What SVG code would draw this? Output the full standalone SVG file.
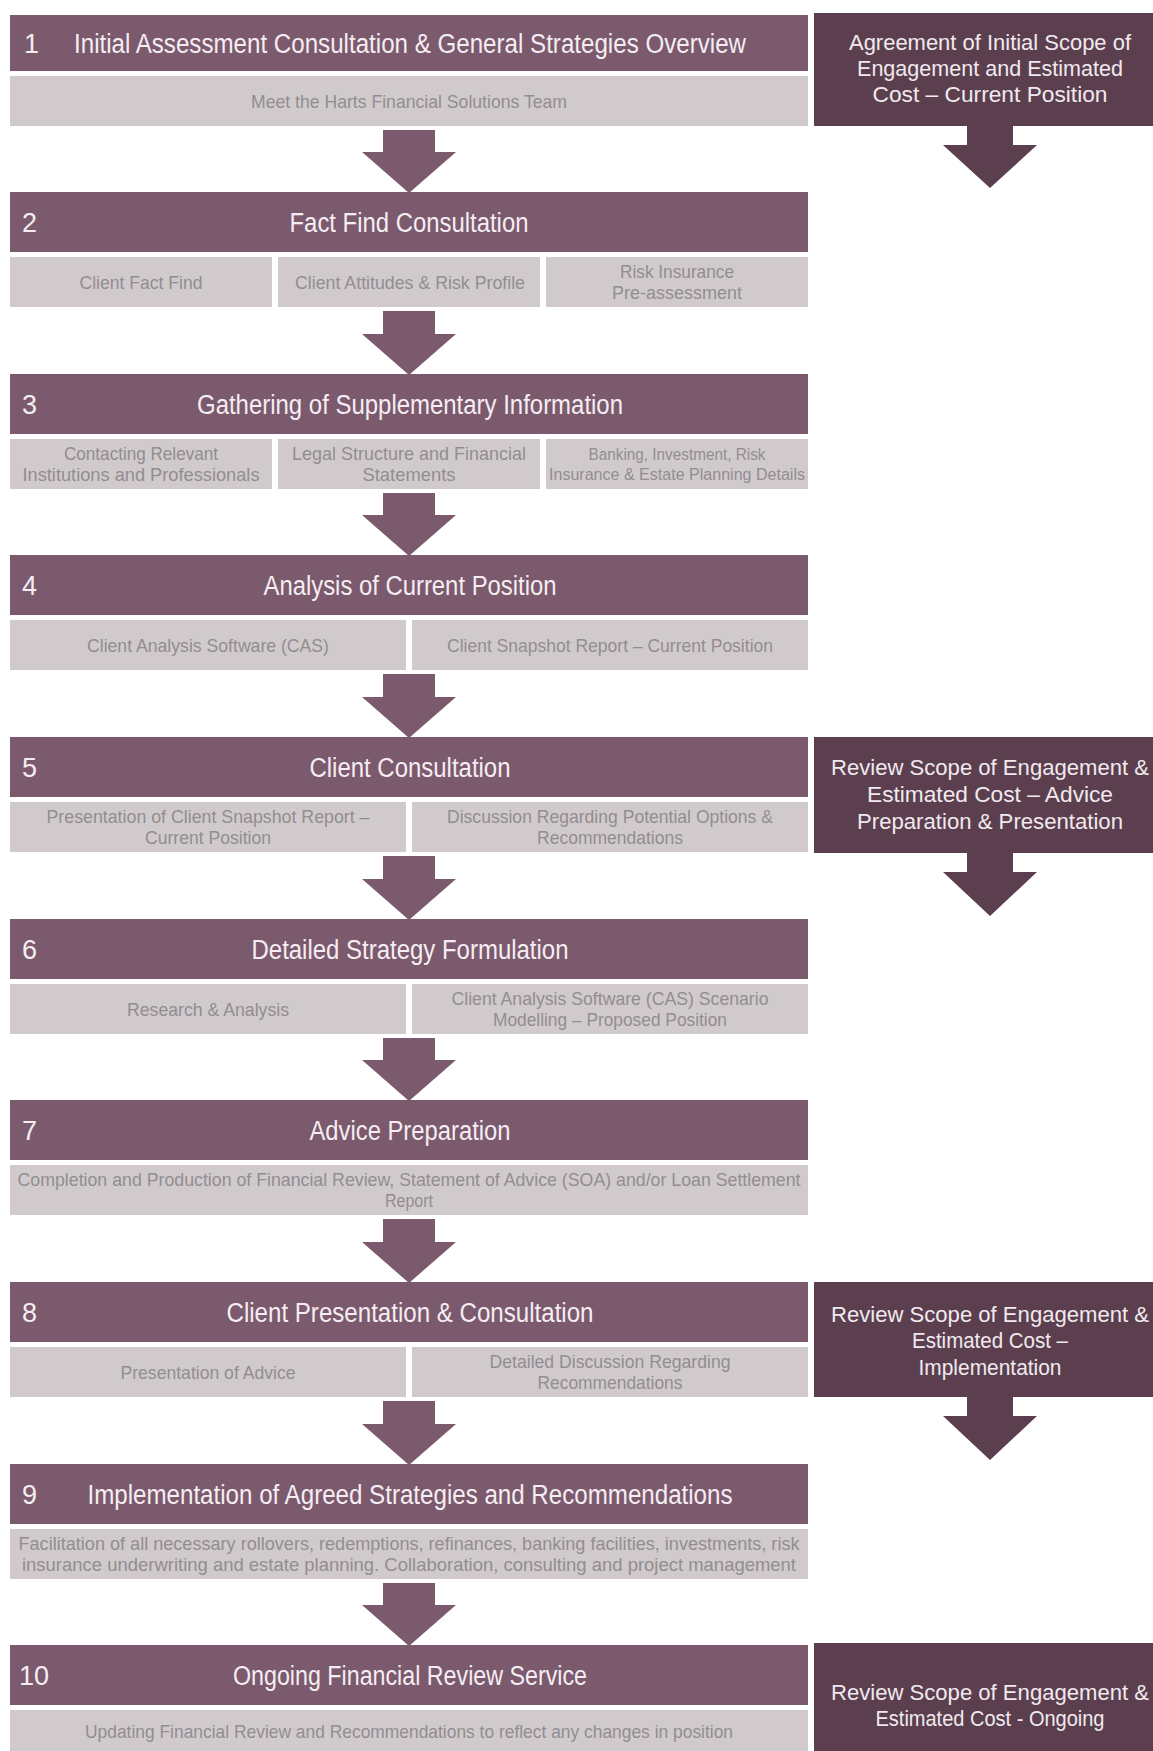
<svg xmlns="http://www.w3.org/2000/svg" width="1153" height="1751" viewBox="0 0 1153 1751">
<style>
.hdr{fill:#7b5a6d}
.side{fill:#5b3f4f}
.cell{fill:#d1cacd}
.arr{fill:#7b5a6d}
.sarr{fill:#5b3f4f}
.ht{font-family:"Liberation Sans Narrow","Liberation Sans",Arial,sans-serif;font-size:27px;fill:#f5edf2;text-anchor:middle}
.num{font-family:"Liberation Sans Narrow","Liberation Sans",Arial,sans-serif;font-size:27px;fill:#f5edf2}
.ct{font-family:"Liberation Sans Narrow","Liberation Sans",Arial,sans-serif;font-size:19px;fill:#928d90;text-anchor:middle}
.cs{font-family:"Liberation Sans Narrow","Liberation Sans",Arial,sans-serif;font-size:16px;fill:#928d90;text-anchor:middle}
.st{font-family:"Liberation Sans",Arial,sans-serif;font-size:22px;fill:#f1e9ee;text-anchor:middle}
</style>
<rect width="1153" height="1751" fill="#ffffff"/>

<g id="connectors">
<polygon class="arr" points="383,130 435,130 435,152 456,152 409,193 362,152 383,152"/>
<polygon class="arr" points="383,311 435,311 435,334 456,334 409,375 362,334 383,334"/>
<polygon class="arr" points="383,493 435,493 435,515 456,515 409,556 362,515 383,515"/>
<polygon class="arr" points="383,674 435,674 435,697 456,697 409,738 362,697 383,697"/>
<polygon class="arr" points="383,856 435,856 435,879 456,879 409,920 362,879 383,879"/>
<polygon class="arr" points="383,1038 435,1038 435,1060 456,1060 409,1101 362,1060 383,1060"/>
<polygon class="arr" points="383,1219 435,1219 435,1242 456,1242 409,1283 362,1242 383,1242"/>
<polygon class="arr" points="383,1401 435,1401 435,1424 456,1424 409,1465 362,1424 383,1424"/>
<polygon class="arr" points="383,1583 435,1583 435,1605 456,1605 409,1646 362,1605 383,1605"/>
<polygon class="sarr" points="967,125 1013,125 1013,145 1037,145 990,188 943,145 967,145"/>
<polygon class="sarr" points="967,852 1013,852 1013,872 1037,872 990,916 943,872 967,872"/>
<polygon class="sarr" points="967,1396 1013,1396 1013,1416 1037,1416 990,1460 943,1416 967,1416"/>
</g>

<g id="step1">
<rect class="hdr" x="10" y="15" width="798" height="56"/>
<text class="num" x="24" y="53">1</text>
<text class="ht" x="410" y="53" textLength="672" lengthAdjust="spacingAndGlyphs">Initial Assessment Consultation &amp; General Strategies Overview</text>
<rect class="cell" x="10" y="76" width="798" height="50"/>
<text class="ct" x="409" y="108" textLength="316" lengthAdjust="spacingAndGlyphs">Meet the Harts Financial Solutions Team</text>
</g>

<g id="scope1">
<rect class="side" x="814" y="13" width="339" height="113"/>
<text class="st" x="990" y="50" textLength="282" lengthAdjust="spacingAndGlyphs">Agreement of Initial Scope of</text>
<text class="st" x="990" y="76" textLength="266" lengthAdjust="spacingAndGlyphs">Engagement and Estimated</text>
<text class="st" x="990" y="102" textLength="235" lengthAdjust="spacingAndGlyphs">Cost – Current Position</text>
</g>

<g id="step2">
<rect class="hdr" x="10" y="192" width="798" height="60"/>
<text class="num" x="22" y="232">2</text>
<text class="ht" x="409" y="232" textLength="239" lengthAdjust="spacingAndGlyphs">Fact Find Consultation</text>
<rect class="cell" x="10" y="257" width="262" height="50"/>
<rect class="cell" x="278" y="257" width="262" height="50"/>
<rect class="cell" x="546" y="257" width="262" height="50"/>
<text class="ct" x="141" y="289" textLength="123" lengthAdjust="spacingAndGlyphs">Client Fact Find</text>
<text class="ct" x="410" y="289" textLength="230" lengthAdjust="spacingAndGlyphs">Client Attitudes &amp; Risk Profile</text>
<text class="ct" x="677" y="278" textLength="114" lengthAdjust="spacingAndGlyphs">Risk Insurance</text>
<text class="ct" x="677" y="299" textLength="130" lengthAdjust="spacingAndGlyphs">Pre-assessment</text>
</g>

<g id="step3">
<rect class="hdr" x="10" y="374" width="798" height="60"/>
<text class="num" x="22" y="414">3</text>
<text class="ht" x="410" y="414" textLength="426" lengthAdjust="spacingAndGlyphs">Gathering of Supplementary Information</text>
<rect class="cell" x="10" y="439" width="262" height="50"/>
<rect class="cell" x="278" y="439" width="262" height="50"/>
<rect class="cell" x="546" y="439" width="262" height="50"/>
<text class="ct" x="141" y="460" textLength="154" lengthAdjust="spacingAndGlyphs">Contacting Relevant</text>
<text class="ct" x="141" y="481" textLength="237" lengthAdjust="spacingAndGlyphs">Institutions and Professionals</text>
<text class="ct" x="409" y="460" textLength="234" lengthAdjust="spacingAndGlyphs">Legal Structure and Financial</text>
<text class="ct" x="409" y="481" textLength="93" lengthAdjust="spacingAndGlyphs">Statements</text>
<text class="cs" x="677" y="460" textLength="177" lengthAdjust="spacingAndGlyphs">Banking, Investment, Risk</text>
<text class="cs" x="677" y="480" textLength="256" lengthAdjust="spacingAndGlyphs">Insurance &amp; Estate Planning Details</text>
</g>

<g id="step4">
<rect class="hdr" x="10" y="555" width="798" height="60"/>
<text class="num" x="22" y="595">4</text>
<text class="ht" x="410" y="595" textLength="293" lengthAdjust="spacingAndGlyphs">Analysis of Current Position</text>
<rect class="cell" x="10" y="620" width="396" height="50"/>
<rect class="cell" x="412" y="620" width="396" height="50"/>
<text class="ct" x="208" y="652" textLength="242" lengthAdjust="spacingAndGlyphs">Client Analysis Software (CAS)</text>
<text class="ct" x="610" y="652" textLength="326" lengthAdjust="spacingAndGlyphs">Client Snapshot Report – Current Position</text>
</g>

<g id="step5">
<rect class="hdr" x="10" y="737" width="798" height="60"/>
<text class="num" x="22" y="777">5</text>
<text class="ht" x="410" y="777" textLength="201" lengthAdjust="spacingAndGlyphs">Client Consultation</text>
<rect class="cell" x="10" y="802" width="396" height="50"/>
<rect class="cell" x="412" y="802" width="396" height="50"/>
<text class="ct" x="208" y="823" textLength="323" lengthAdjust="spacingAndGlyphs">Presentation of Client Snapshot Report –</text>
<text class="ct" x="208" y="844" textLength="126" lengthAdjust="spacingAndGlyphs">Current Position</text>
<text class="ct" x="610" y="823" textLength="326" lengthAdjust="spacingAndGlyphs">Discussion Regarding Potential Options &amp;</text>
<text class="ct" x="610" y="844" textLength="146" lengthAdjust="spacingAndGlyphs">Recommendations</text>
</g>

<g id="scope5">
<rect class="side" x="814" y="737" width="339" height="116"/>
<text class="st" x="990" y="775" textLength="318" lengthAdjust="spacingAndGlyphs">Review Scope of Engagement &amp;</text>
<text class="st" x="990" y="802" textLength="246" lengthAdjust="spacingAndGlyphs">Estimated Cost – Advice</text>
<text class="st" x="990" y="829" textLength="266" lengthAdjust="spacingAndGlyphs">Preparation &amp; Presentation</text>
</g>

<g id="step6">
<rect class="hdr" x="10" y="919" width="798" height="60"/>
<text class="num" x="22" y="959">6</text>
<text class="ht" x="410" y="959" textLength="317" lengthAdjust="spacingAndGlyphs">Detailed Strategy Formulation</text>
<rect class="cell" x="10" y="984" width="396" height="50"/>
<rect class="cell" x="412" y="984" width="396" height="50"/>
<text class="ct" x="208" y="1016" textLength="162" lengthAdjust="spacingAndGlyphs">Research &amp; Analysis</text>
<text class="ct" x="610" y="1005" textLength="317" lengthAdjust="spacingAndGlyphs">Client Analysis Software (CAS) Scenario</text>
<text class="ct" x="610" y="1026" textLength="234" lengthAdjust="spacingAndGlyphs">Modelling – Proposed Position</text>
</g>

<g id="step7">
<rect class="hdr" x="10" y="1100" width="798" height="60"/>
<text class="num" x="22" y="1140">7</text>
<text class="ht" x="410" y="1140" textLength="201" lengthAdjust="spacingAndGlyphs">Advice Preparation</text>
<rect class="cell" x="10" y="1165" width="798" height="50"/>
<text class="ct" x="409" y="1186" textLength="783" lengthAdjust="spacingAndGlyphs">Completion and Production of Financial Review, Statement of Advice (SOA) and/or Loan Settlement</text>
<text class="ct" x="409" y="1207" textLength="48" lengthAdjust="spacingAndGlyphs">Report</text>
</g>

<g id="step8">
<rect class="hdr" x="10" y="1282" width="798" height="60"/>
<text class="num" x="22" y="1322">8</text>
<text class="ht" x="410" y="1322" textLength="367" lengthAdjust="spacingAndGlyphs">Client Presentation &amp; Consultation</text>
<rect class="cell" x="10" y="1347" width="396" height="50"/>
<rect class="cell" x="412" y="1347" width="396" height="50"/>
<text class="ct" x="208" y="1379" textLength="175" lengthAdjust="spacingAndGlyphs">Presentation of Advice</text>
<text class="ct" x="610" y="1368" textLength="241" lengthAdjust="spacingAndGlyphs">Detailed Discussion Regarding</text>
<text class="ct" x="610" y="1389" textLength="145" lengthAdjust="spacingAndGlyphs">Recommendations</text>
</g>

<g id="scope8">
<rect class="side" x="814" y="1282" width="339" height="115"/>
<text class="st" x="990" y="1322" textLength="318" lengthAdjust="spacingAndGlyphs">Review Scope of Engagement &amp;</text>
<text class="st" x="990" y="1348" textLength="156" lengthAdjust="spacingAndGlyphs">Estimated Cost –</text>
<text class="st" x="990" y="1375" textLength="143" lengthAdjust="spacingAndGlyphs">Implementation</text>
</g>

<g id="step9">
<rect class="hdr" x="10" y="1464" width="798" height="60"/>
<text class="num" x="22" y="1504">9</text>
<text class="ht" x="410" y="1504" textLength="645" lengthAdjust="spacingAndGlyphs">Implementation of Agreed Strategies and Recommendations</text>
<rect class="cell" x="10" y="1529" width="798" height="50"/>
<text class="ct" x="409" y="1550" textLength="781" lengthAdjust="spacingAndGlyphs">Facilitation of all necessary rollovers, redemptions, refinances, banking facilities, investments, risk</text>
<text class="ct" x="409" y="1571" textLength="774" lengthAdjust="spacingAndGlyphs">insurance underwriting and estate planning.  Collaboration, consulting and project management</text>
</g>

<g id="step10">
<rect class="hdr" x="10" y="1645" width="798" height="60"/>
<text class="num" x="19" y="1685">10</text>
<text class="ht" x="410" y="1685" textLength="354" lengthAdjust="spacingAndGlyphs">Ongoing Financial Review Service</text>
<rect class="cell" x="10" y="1710" width="798" height="50"/>
<text class="ct" x="409" y="1738" textLength="648" lengthAdjust="spacingAndGlyphs">Updating Financial Review and Recommendations to reflect any changes in position</text>
</g>

<g id="scope10">
<rect class="side" x="814" y="1643" width="339" height="108"/>
<text class="st" x="990" y="1700" textLength="318" lengthAdjust="spacingAndGlyphs">Review Scope of Engagement &amp;</text>
<text class="st" x="990" y="1726" textLength="229" lengthAdjust="spacingAndGlyphs">Estimated Cost - Ongoing</text>
</g>
</svg>
